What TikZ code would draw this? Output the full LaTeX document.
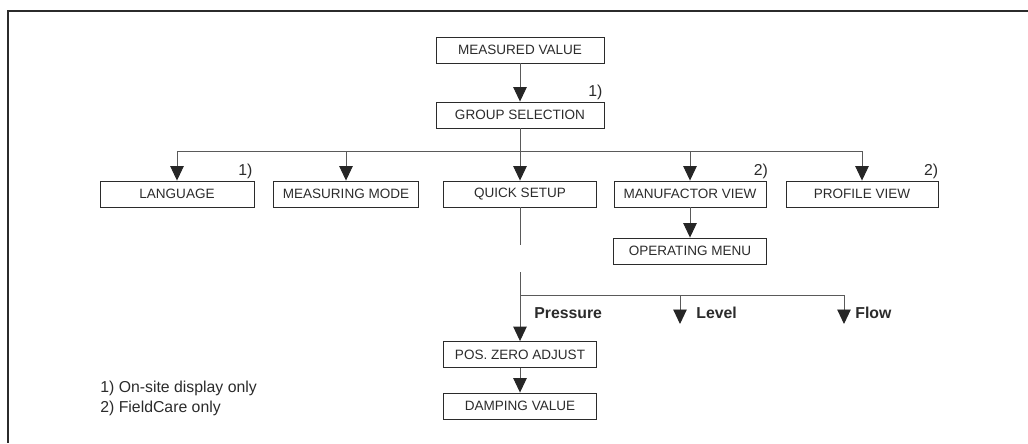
\documentclass[tikz,border=0pt]{standalone}
\usepackage{fontspec}
\setmainfont{Liberation Sans}
\usepackage{tikz}
\usetikzlibrary{arrows.meta,positioning}
\definecolor{inkD}{HTML}{2B2B2B}
\definecolor{lineG}{HTML}{5A5A5A}

\begin{document}
\begin{tikzpicture}[x=0.02cm,y=-0.02cm,
  box/.style={draw=inkD,line width=0.5pt,minimum height=0.52cm,inner sep=0pt,
              font=\fontsize{7.7}{9}\selectfont,text=inkD},
  wire/.style={draw=lineG,line width=0.55pt},
  arr/.style={wire,-{Triangle[width=0.27cm,length=0.29cm,color=black!85]}},
  fn/.style={font=\fontsize{9}{11}\selectfont,text=inkD,inner sep=1pt},
  branchlbl/.style={font=\fontsize{9}{11}\selectfont\bfseries,text=inkD,anchor=west,inner sep=0pt}]
  \useasboundingbox (0,0) rectangle (1028,443);
  \draw[inkD,line width=0.7pt] (1028,11) -| (8,443);
  % top of the menu
  \node[box,minimum width=3.36cm] (mv) at (520,50) {MEASURED VALUE};
  \node[box,minimum width=3.36cm] (gs) at (520,115) {GROUP SELECTION};
  \node[fn,anchor=south east] (gsnote) at (gs.north east) {1)};
  % groups
  \node[box,minimum width=3.08cm] (lang) at (177,194) {LANGUAGE};
  \node[box,minimum width=2.9cm] (mode) at (346,194) {MEASURING MODE};
  \node[box,minimum width=3.06cm] (quick) at (520,194) {QUICK SETUP};
  \node[box,minimum width=3.04cm] (manu) at (690,194) {MANUFACTOR VIEW};
  \node[box,minimum width=3.04cm] (prof) at (862,194) {PROFILE VIEW};
  \node[box,minimum width=3.06cm] (opmenu) at (690,251) {OPERATING MENU};
  \node[fn,anchor=south east] (langnote) at (lang.north east) {1)};
  \node[fn,anchor=south east] (manunote) at ([xshift=2pt]manu.north east) {2)};
  \node[fn,anchor=south east] (profnote) at ([xshift=1pt]prof.north east) {2)};
  % quick setup branch
  \node[box,minimum width=3.06cm] (zero) at (520,354.5) {POS. ZERO ADJUST};
  \node[box,minimum width=3.06cm] (damp) at (520,406) {DAMPING VALUE};
  \coordinate (split) at (520,151);
  \coordinate (qend) at (520,245);
  \coordinate (qcont) at (520,272);
  \coordinate (fork) at (520,295);
  \coordinate (lev) at (680,324);
  \coordinate (flw) at (844,324);
  \draw[arr] (mv) -- (gs);
  \draw[arr] (gs) -- (quick);
  \draw[arr] (split) -| (lang);
  \draw[arr] (split) -| (mode);
  \draw[arr] (split) -| (manu);
  \draw[arr] (split) -| (prof);
  \draw[arr] (manu) -- (opmenu);
  \draw[wire] (quick) -- (qend);
  \draw[arr] (qcont) -- (zero);
  \draw[arr] (fork) -| (lev);
  \draw[arr] (fork) -| (flw);
  \draw[arr] (zero) -- (damp);
  \node[branchlbl] (pres) at (534,313) {Pressure};
  \node[branchlbl] (levl) at (696,313) {Level};
  \node[branchlbl] (flow) at (855,313) {Flow};
  % footnotes
  \node[fn,anchor=west,inner sep=0pt] (fn1) at (100,388) {1) On-site display only};
  \node[fn,anchor=west,inner sep=0pt] (fn2) at (100,408) {2) FieldCare only};
\end{tikzpicture}
\end{document}
